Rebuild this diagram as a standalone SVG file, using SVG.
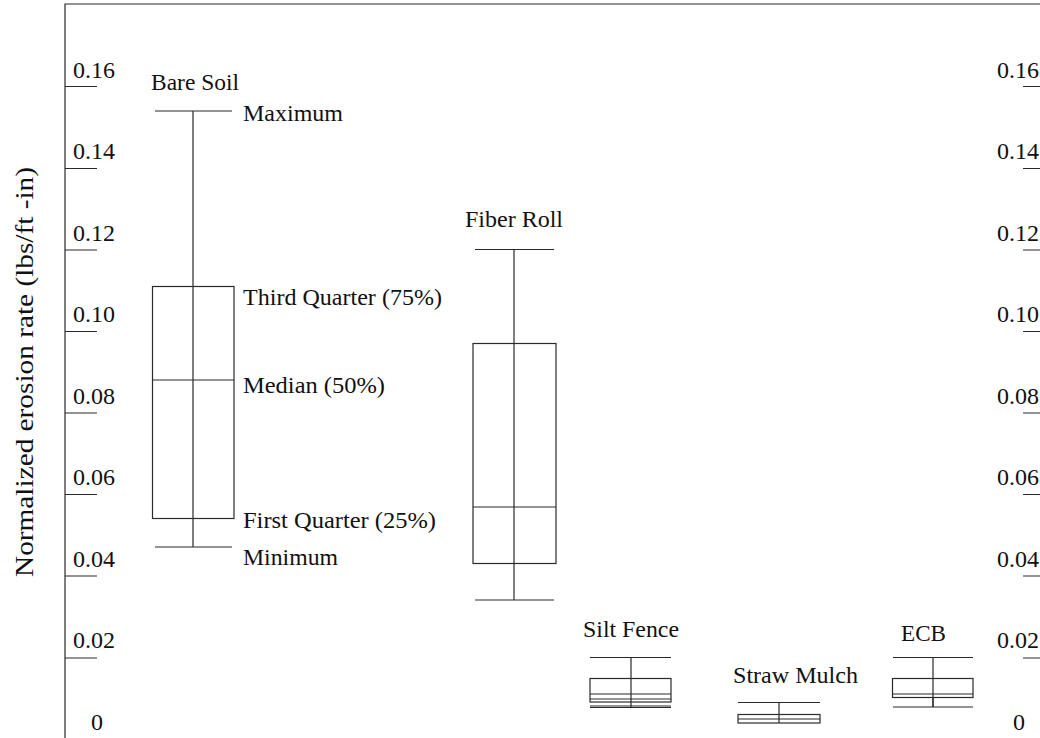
<svg xmlns="http://www.w3.org/2000/svg" width="1040" height="738" viewBox="0 0 1040 738">
<style>
.ln{stroke:#2a2a2a;stroke-width:1.2;fill:none}
.bx{stroke:#2a2a2a;stroke-width:1.2;fill:#fff}
text{font-family:"Liberation Serif","Times New Roman",Times,serif;font-size:24px;fill:#111}
</style>
<rect width="1040" height="738" fill="#fff"/>
<g id="axes">
<path class="ln" d="M65,738 V4 H1040"/>
<path class="ln" d="M65,86.5H97 M65,168.5H97 M65,250H97 M65,331.5H97 M65,413H97 M65,494.5H97 M65,576H97 M65,658H97"/>
<path class="ln" d="M1023,86.5H1040 M1023,168.5H1040 M1023,250H1040 M1023,331.5H1040 M1023,413H1040 M1023,494.5H1040 M1023,576H1040 M1023,658H1040"/>
<text x="73" y="78" textLength="42" lengthAdjust="spacingAndGlyphs">0.16</text>
<text x="73" y="159" textLength="42" lengthAdjust="spacingAndGlyphs">0.14</text>
<text x="73" y="241" textLength="42" lengthAdjust="spacingAndGlyphs">0.12</text>
<text x="73" y="322" textLength="42" lengthAdjust="spacingAndGlyphs">0.10</text>
<text x="73" y="404" textLength="42" lengthAdjust="spacingAndGlyphs">0.08</text>
<text x="73" y="485" textLength="42" lengthAdjust="spacingAndGlyphs">0.06</text>
<text x="73" y="567" textLength="42" lengthAdjust="spacingAndGlyphs">0.04</text>
<text x="73" y="648" textLength="42" lengthAdjust="spacingAndGlyphs">0.02</text>
<text x="91" y="730">0</text>
<text x="997" y="78" textLength="42" lengthAdjust="spacingAndGlyphs">0.16</text>
<text x="997" y="159" textLength="42" lengthAdjust="spacingAndGlyphs">0.14</text>
<text x="997" y="241" textLength="42" lengthAdjust="spacingAndGlyphs">0.12</text>
<text x="997" y="322" textLength="42" lengthAdjust="spacingAndGlyphs">0.10</text>
<text x="997" y="404" textLength="42" lengthAdjust="spacingAndGlyphs">0.08</text>
<text x="997" y="485" textLength="42" lengthAdjust="spacingAndGlyphs">0.06</text>
<text x="997" y="567" textLength="42" lengthAdjust="spacingAndGlyphs">0.04</text>
<text x="997" y="648" textLength="42" lengthAdjust="spacingAndGlyphs">0.02</text>
<text x="1013" y="730">0</text>
<text transform="translate(33,372) rotate(-90)" text-anchor="middle" style="font-size:26px" textLength="410" lengthAdjust="spacingAndGlyphs">Normalized erosion rate (lbs/ft -in)</text>
</g>
<g id="bare-soil">
<path class="ln" d="M193,111V547 M155,111H232 M155,547H232"/>
<rect class="bx" x="152.5" y="286.5" width="81.5" height="232"/>
<path class="ln" d="M193,286V519 M152.5,380H234"/>
<text x="151" y="90" textLength="88" lengthAdjust="spacingAndGlyphs">Bare Soil</text>
<text x="243" y="121" textLength="100" lengthAdjust="spacingAndGlyphs">Maximum</text>
<text x="243" y="305" textLength="199" lengthAdjust="spacingAndGlyphs">Third Quarter (75%)</text>
<text x="243" y="393" textLength="142" lengthAdjust="spacingAndGlyphs">Median (50%)</text>
<text x="243" y="528" textLength="193" lengthAdjust="spacingAndGlyphs">First Quarter (25%)</text>
<text x="243" y="565" textLength="95" lengthAdjust="spacingAndGlyphs">Minimum</text>
</g>
<g id="fiber-roll">
<path class="ln" d="M514,249.5V600 M475,249.5H554 M475,600H554"/>
<rect class="bx" x="473" y="343.5" width="83" height="220"/>
<path class="ln" d="M514,343V564 M473,507H556"/>
<text x="465" y="227" textLength="98" lengthAdjust="spacingAndGlyphs">Fiber Roll</text>
</g>
<g id="silt-fence">
<path class="ln" d="M631,657.5V707 M590,657.5H671 M590,706H671 M590,707.5H671"/>
<rect class="bx" x="590" y="678.5" width="81" height="23.5"/>
<path class="ln" d="M631,678V702 M590,694H671 M590,699H671"/>
<text x="583" y="637" textLength="96" lengthAdjust="spacingAndGlyphs">Silt Fence</text>
</g>
<g id="straw-mulch">
<path class="ln" d="M779,702.5V723 M738,702.5H820"/>
<rect class="bx" x="738" y="714.5" width="82" height="8.5"/>
<path class="ln" d="M779,714V723 M738,719H820"/>
<text x="733" y="683" textLength="125" lengthAdjust="spacingAndGlyphs">Straw Mulch</text>
</g>
<g id="ecb">
<path class="ln" d="M933,657.5V707 M893,657.5H973 M893,707H973"/>
<rect class="bx" x="892.5" y="678.5" width="80.5" height="19"/>
<path class="ln" d="M933,678V707 M892.5,694H973"/>
<text x="901" y="641" textLength="45" lengthAdjust="spacingAndGlyphs">ECB</text>
</g>
</svg>
